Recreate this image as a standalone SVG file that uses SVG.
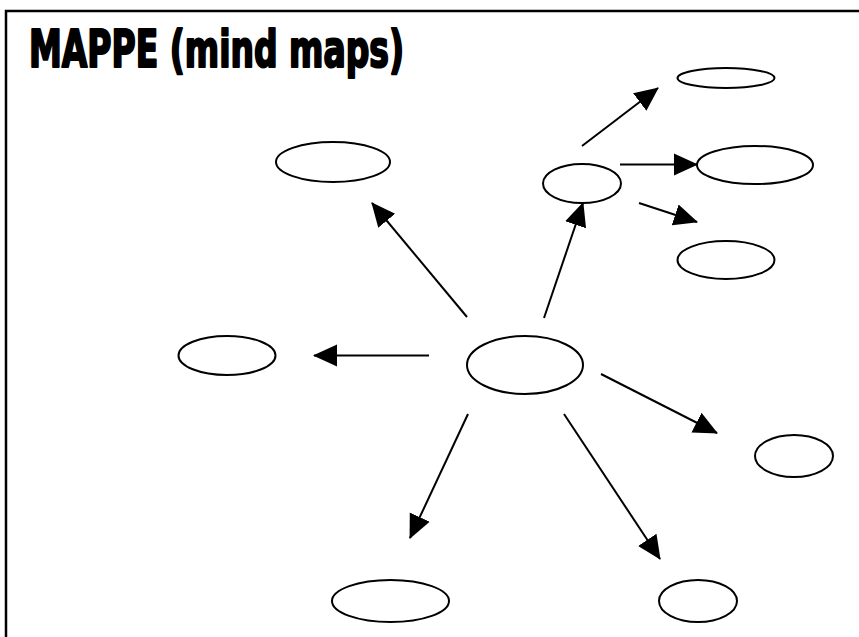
<svg xmlns="http://www.w3.org/2000/svg" width="859" height="637" viewBox="0 0 859 637">
<style>
.n{fill:#fff;stroke:#000;stroke-width:2}
.c line{stroke:#000;stroke-width:2;marker-end:url(#ah)}
.t{font-family:"DejaVu Sans Condensed","DejaVu Sans","Liberation Sans",sans-serif;font-weight:bold;font-size:52px;fill:#000;stroke:#000;stroke-width:2.2;stroke-linejoin:round}
</style>
<defs>
<marker id="ah" markerUnits="userSpaceOnUse" markerWidth="24" markerHeight="24" viewBox="0 0 24 24" refX="23" refY="12" orient="auto">
<path d="M0,1 L24,12 L0,23 Z" fill="#000"/>
</marker>
</defs>
<rect width="859" height="637" fill="#fff"/>
<path d="M6,637 V11 H859" fill="none" stroke="#000" stroke-width="2.5"/>
<text class="t" x="29" y="67" textLength="375" lengthAdjust="spacingAndGlyphs">MAPPE (mind maps)</text>
<g id="center"><ellipse class="n" cx="525" cy="365" rx="58" ry="29"/></g>
<g id="n-topleft"><ellipse class="n" cx="333" cy="162" rx="57" ry="20"/></g>
<g id="n-left"><ellipse class="n" cx="227" cy="355.5" rx="48.5" ry="19.5"/></g>
<g id="n-hub"><ellipse class="n" cx="582" cy="183.5" rx="39" ry="19.5"/></g>
<g id="n-hub-top"><ellipse class="n" cx="726" cy="78" rx="48.5" ry="10"/></g>
<g id="n-hub-mid"><ellipse class="n" cx="755" cy="165" rx="58" ry="19"/></g>
<g id="n-hub-bot"><ellipse class="n" cx="726" cy="260" rx="48.5" ry="19"/></g>
<g id="n-right"><ellipse class="n" cx="794" cy="456" rx="39" ry="21"/></g>
<g id="n-botleft"><ellipse class="n" cx="390.5" cy="601" rx="58.5" ry="21"/></g>
<g id="n-botright"><ellipse class="n" cx="698" cy="601" rx="39" ry="21"/></g>
<g id="connectors" class="c">
<line x1="467" y1="317" x2="372" y2="203"/>
<line x1="544" y1="318" x2="583" y2="203"/>
<line x1="429" y1="355.5" x2="314" y2="355.5"/>
<line x1="582" y1="146" x2="658" y2="88"/>
<line x1="620" y1="164.5" x2="697" y2="164.5"/>
<line x1="639" y1="203" x2="697" y2="222"/>
<line x1="601" y1="374" x2="717" y2="433"/>
<line x1="468" y1="414" x2="410" y2="538"/>
<line x1="564" y1="414" x2="660" y2="559"/>
</g>
</svg>
